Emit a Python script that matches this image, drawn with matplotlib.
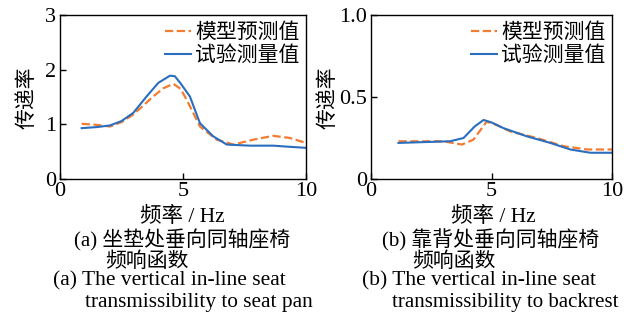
import matplotlib
matplotlib.use("Agg")
import matplotlib.pyplot as plt
import numpy as np

# Panel (a): seat pan
fa_test = [0.88, 1.5, 2.03, 2.5, 2.98, 3.52, 4.0, 4.47, 4.67, 4.9, 5.28, 5.69, 6.23, 6.78, 7.72, 8.67, 9.3, 10.0]
ya_test = [0.93, 0.95, 0.98, 1.06, 1.21, 1.51, 1.76, 1.89, 1.88, 1.75, 1.51, 1.02, 0.78, 0.63, 0.61, 0.61, 0.59, 0.57]
fa_model = [0.88, 1.5, 2.03, 2.5, 2.98, 3.4, 3.79, 4.2, 4.61, 4.9, 5.15, 5.69, 6.37, 7.05, 7.86, 8.67, 9.35, 10.0]
ya_model = [1.01, 0.99, 0.96, 1.04, 1.18, 1.35, 1.51, 1.66, 1.74, 1.65, 1.45, 0.96, 0.72, 0.63, 0.72, 0.79, 0.75, 0.66]

# Panel (b): backrest
fb_test = [1.14, 2.2, 3.28, 3.84, 4.3, 4.67, 5.0, 5.5, 6.47, 7.44, 8.27, 9.1, 10.0]
yb_test = [0.22, 0.225, 0.23, 0.25, 0.32, 0.36, 0.345, 0.31, 0.26, 0.22, 0.18, 0.16, 0.16]
fb_model = [1.14, 2.2, 3.0, 3.77, 4.25, 4.8, 5.2, 5.78, 6.88, 7.99, 8.96, 10.0]
yb_model = [0.23, 0.23, 0.23, 0.21, 0.24, 0.35, 0.33, 0.29, 0.25, 0.20, 0.18, 0.18]

label_model = "模型预测值"
label_test = "试验测量值"
ylabel = "传递率"
xlabel = "频率 / Hz"

plt.rcParams['font.family'] = ['Liberation Serif', 'Noto Sans CJK SC']

W, H = 632, 322
fig = plt.figure(figsize=(W / 100, H / 100), dpi=100)

def px_axes(l, r, t, b):
    return fig.add_axes([l / W, 1 - b / H, (r - l) / W, (b - t) / H])

ax1 = px_axes(60, 306, 15, 179)
ax2 = px_axes(371, 612, 15, 179)

orange = '#f47c30'
blue = '#2a6ebf'

for ax, ft, yt, fm, ym, ylim, yticks, yticklabels in [
    (ax1, fa_test, ya_test, fa_model, ya_model, (0, 3), [0, 1, 2, 3], ['0', '1', '2', '3']),
    (ax2, fb_test, yb_test, fb_model, yb_model, (0, 1), [0, 0.5, 1.0], ['0', '0.5', '1.0']),
]:
    ax.plot(fm, ym, '--', color=orange, lw=1.6, label=label_model)
    ax.plot(ft, yt, '-', color=blue, lw=1.5, label=label_test)
    ax.set_xlim(0, 10)
    ax.set_ylim(*ylim)
    ax.set_xticks([0, 5, 10])
    ax.set_yticks(yticks)
    ax.set_yticklabels(yticklabels)
    ax.tick_params(direction='in', labelsize=16, length=4, width=1)
    ax.tick_params(axis='y', pad=3)
    ax.tick_params(axis='x', pad=2)
    for s in ax.spines.values():
        s.set_linewidth(1.0)
    ax.legend(loc='upper right', frameon=False, prop={'family': ['Noto Sans CJK SC'], 'size': 15},
              handlelength=1.25, handletextpad=0.2, borderaxespad=0.0, labelspacing=0.05,
              borderpad=0.3)

def ftext(x, y, s, ha='left', size=15, va='baseline', **kw):
    fig.text(x / W, 1 - y / H, s, ha=ha, va=va, fontsize=size, **kw)

ftext(27, 98, ylabel, ha='center', va='center', rotation=90, size=15, family=['Noto Sans CJK SC'])
ftext(328, 98, ylabel, ha='center', va='center', rotation=90, size=15, family=['Noto Sans CJK SC'])

ftext(182, 222, xlabel, ha='center', size=15.5)
ftext(493, 222, xlabel, ha='center', size=15.5)

ftext(74, 246, "(a) 坐垫处垂向同轴座椅", size=15)
ftext(105, 267, "频响函数", size=15)
ftext(53, 285, "(a) The vertical in-line seat", size=15.5)
ftext(85, 307, "transmissibility to seat pan", size=15.3)

ftext(382, 246, "(b) 靠背处垂向同轴座椅", size=15)
ftext(412, 267, "频响函数", size=15)
ftext(362, 285, "(b) The vertical in-line seat", size=15.5)
ftext(392, 307, "transmissibility to backrest", size=15.1)

fig.savefig("out.png", dpi=100)
